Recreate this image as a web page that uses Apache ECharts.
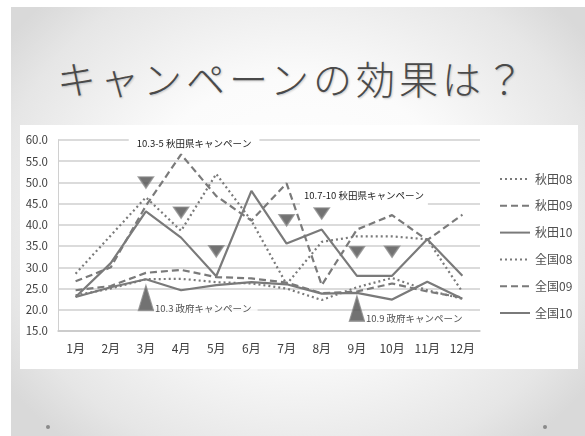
<!DOCTYPE html>
<html>
<head>
<meta charset="utf-8">
<script src="https://cdn.jsdelivr.net/npm/echarts@6/dist/echarts.min.js"></script>
<style>
  html, body { margin: 0; padding: 0; background: #fff; }
  .slide {
    position: absolute; left: 11px; top: 7px; width: 574px; height: 429px;
    background: radial-gradient(ellipse 62% 70% at 50% 48%, #ffffff 0%, #fbfbfb 45%, #e6e6e6 85%, #d9d9d9 100%);
  }
  .title {
    position: absolute; left: 0; top: 55px; width: 585px; height: 44px;
    text-align: center; line-height: 44px; font-size: 39px; letter-spacing: 4px;
    font-family: 'Noto Sans CJK JP', sans-serif; font-weight: 300; color: #4a4a4a;
    text-shadow: 1px 1px 2px rgba(0,0,0,0.2);
  }
  .box { position: absolute; left: 20px; top: 125px; width: 558px; height: 244px; background: #fff; }
  .dot { position: absolute; width: 4px; height: 4px; border-radius: 2px; background: #8a8a8a; top: 425px; }
  #chart { position: absolute; left: 0; top: 0; width: 585px; height: 436px; }
</style>
</head>
<body>
<div class="slide"></div>
<div class="title">キャンペーンの効果は？</div>
<div class="box"></div>
<div class="dot" style="left:46px"></div>
<div class="dot" style="left:543px"></div>
<div id="chart"></div>
<script>
// months
const months = ['1月', '2月', '3月', '4月', '5月', '6月', '7月', '8月', '9月', '10月', '11月', '12月'];

// series values
const akita08 = [28.5, 37.5, 46.5, 38.6, 52.0, 41.0, 26.0, 36.0, 37.3, 37.3, 36.6, 24.2];
const akita09 = [26.7, 30.0, 44.5, 56.6, 46.8, 41.0, 49.8, 25.8, 38.9, 42.3, 36.4, 42.4];
const akita10 = [23.0, 31.0, 43.2, 37.0, 27.9, 48.0, 35.6, 38.9, 28.0, 28.0, 36.6, 28.0];
const zenkoku08 = [23.4, 25.0, 27.2, 27.3, 26.5, 26.2, 25.0, 22.3, 25.3, 27.5, 24.6, 22.6];
const zenkoku09 = [24.6, 25.6, 28.7, 29.4, 27.7, 27.4, 26.4, 23.9, 24.3, 26.2, 24.3, 22.9];
const zenkoku10 = [23.0, 25.3, 27.2, 24.6, 25.8, 26.5, 26.0, 23.8, 24.0, 22.4, 26.6, 22.6];

// campaign markers
const akitaMarks = [['3月', 50.0], ['4月', 42.9], ['5月', 33.8], ['7月', 41.1], ['8月', 42.7], ['9月', 33.6], ['10月', 33.7]];
const govMarks = [['3月', 22.8], ['9月', 20.3]];
const govNotes = ['10.3 政府キャンペーン', '10.9 政府キャンペーン'];
const akitaNotes = ['10.3-5 秋田県キャンペーン', '10.7-10 秋田県キャンペーン'];
const akitaNoteAt = [['4月', 59.3], ['9月', 46.9]];

const yTicks = { min: 15, max: 60, step: 5 };

const font = "'Noto Sans CJK JP', 'Noto Sans', sans-serif";
const gray = '#7a7a7a';
const noteShift = [13, 7];

function lineSeries(name, data, type) {
  return {
    name: name, type: 'line', data: data, symbol: 'none', showSymbol: false, z: 3,
    lineStyle: { color: gray, width: 2.2, type: type },
    itemStyle: { color: gray }
  };
}

var chart = echarts.init(document.getElementById('chart'), null, { renderer: 'canvas' });
chart.setOption({
  animation: false,
  textStyle: { fontFamily: font },
  grid: { left: 58, right: 105, top: 140, bottom: 105 },
  legend: {
    orient: 'vertical', left: 494, top: 168, itemWidth: 30, itemHeight: 12, itemGap: 14.8,
    itemStyle: { color: 'rgba(0,0,0,0)', borderWidth: 0 },
    textStyle: { fontSize: 12, color: '#505050', fontFamily: font },
    data: ['秋田08', '秋田09', '秋田10', '全国08', '全国09', '全国10']
  },
  xAxis: {
    type: 'category', data: months, boundaryGap: true,
    axisTick: { show: false },
    axisLine: { lineStyle: { color: '#c8c8c8', width: 1.5 } },
    axisLabel: { fontSize: 12, color: '#404040', margin: 11 }
  },
  yAxis: {
    type: 'value', min: yTicks.min, max: yTicks.max, interval: yTicks.step,
    axisLine: { show: true, lineStyle: { color: '#d0d0d0', width: 1 } },
    axisTick: { show: false },
    splitLine: { lineStyle: { color: '#cfcfcf', width: 1.5 } },
    axisLabel: { fontSize: 11.5, color: '#404040', margin: 10, formatter: v => v.toFixed(1) }
  },
  series: [
    lineSeries('秋田08', akita08, [2, 3]),
    lineSeries('秋田09', akita09, [7, 4]),
    lineSeries('秋田10', akita10, 'solid'),
    lineSeries('全国08', zenkoku08, [2, 3]),
    lineSeries('全国09', zenkoku09, [7, 4]),
    lineSeries('全国10', zenkoku10, 'solid'),
    {
      name: 'akitaCampaign', type: 'scatter', z: 5,
      data: akitaMarks, symbol: 'triangle', symbolRotate: 180, symbolSize: [15, 11],
      itemStyle: { color: '#4f4f4f', borderColor: '#8c8c8c', borderWidth: 1.5 },
      markPoint: {
        symbol: 'rect', symbolSize: 1,
        itemStyle: { color: 'rgba(0,0,0,0)' },
        data: akitaNotes.map((t, i) => ({
          coord: akitaNoteAt[i], value: t,
          label: {
            show: true, position: 'inside', formatter: t, offset: [noteShift[i], 0],
            fontSize: 9.5, color: '#222', fontFamily: font,
            backgroundColor: '#fff', padding: i === 0 ? [2, 8] : [10, 4, 1, 4]
          }
        }))
      }
    },
    {
      name: 'govCampaign', type: 'scatter', z: 5,
      data: govMarks, symbol: 'triangle', symbolSize: [15, 25],
      itemStyle: { color: '#4f4f4f', borderColor: '#8c8c8c', borderWidth: 1.5 },
      label: {
        show: true, position: 'right', distance: 0, offset: [0, 10],
        formatter: p => govNotes[p.dataIndex],
        fontSize: 9.5, color: '#222', fontFamily: font,
        backgroundColor: '#fff', padding: [4, 6, 2, 1]
      }
    }
  ]
});
</script>
</body>
</html>
